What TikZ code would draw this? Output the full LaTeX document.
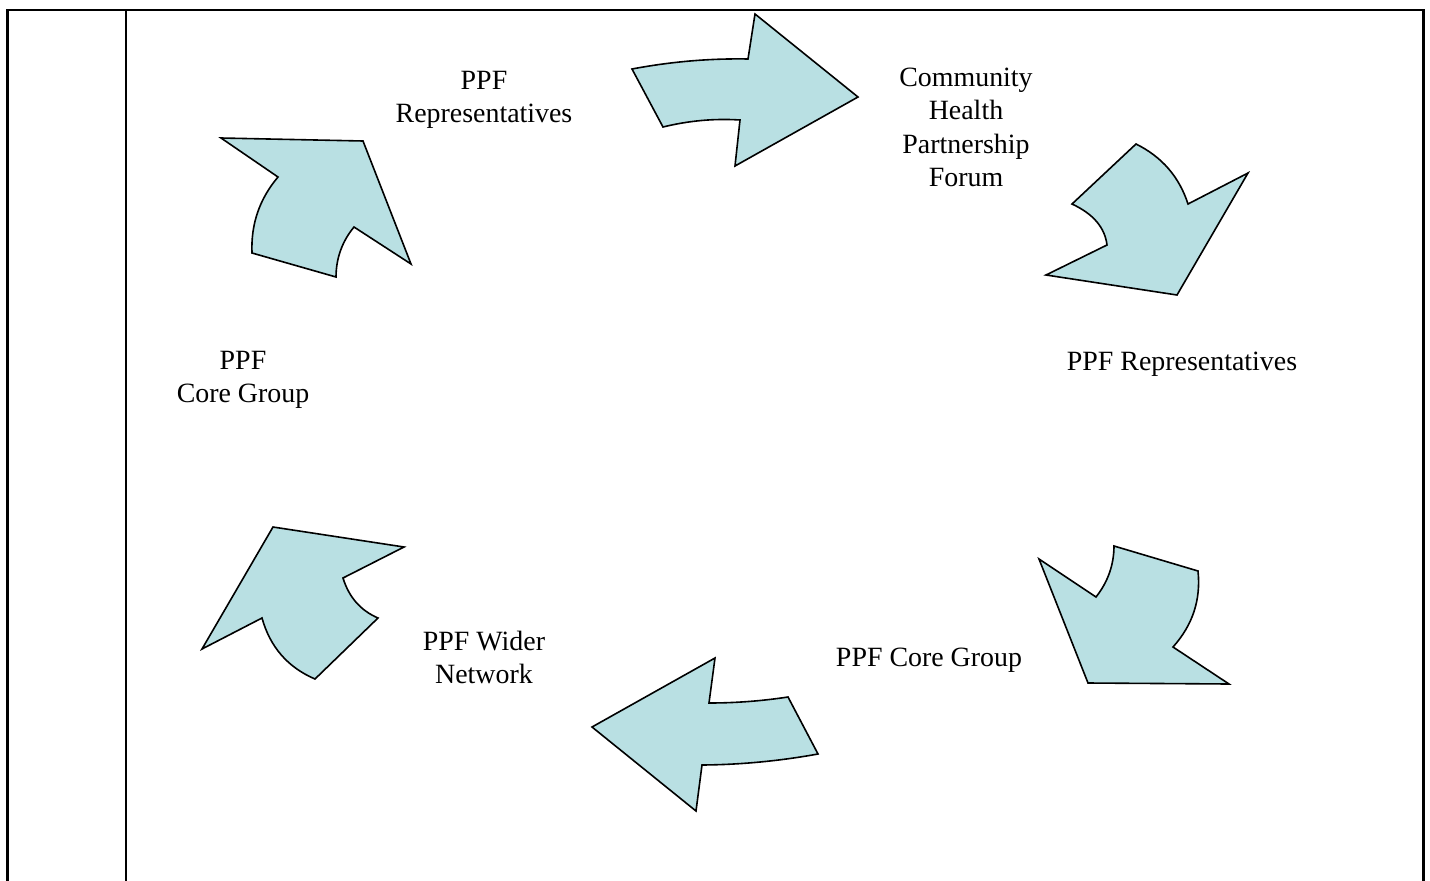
\documentclass[tikz,border=0pt]{standalone}
\usepackage{fontspec}
\setmainfont{Liberation Serif}
\definecolor{arrowfill}{RGB}{185,224,227}
\begin{document}
\begin{tikzpicture}[x=1pt,y=-1pt,
  frameline/.style={line width=2.2pt,black},
  bigarrow/.style={draw=black,line width=1.6pt,fill=arrowfill,line join=miter},
  label/.style={font={\fontsize{27.9}{33.5}\selectfont},align=center,inner sep=0pt,anchor=base}]
\useasboundingbox (0,0) rectangle (1430,881);
% frame
\coordinate (tl) at (7.5,10);
\coordinate (tr) at (1423.5,10);
\coordinate (bl) at (7.5,881);
\coordinate (br) at (1423.5,881);
\coordinate (mt) at (126,10);
\coordinate (mb) at (126,881);
\draw[frameline] (bl) -- (tl) -- (tr) -- (br);
\draw[frameline] (mt) -- (mb);
% arrow 1 (top, pointing right)
\draw[bigarrow] (632,69) .. controls (670.7,61.7) and (709.3,58.3) .. (748,59) -- (755,14) -- (858,97) -- (735,166) -- (740,120)
  .. controls (714.3,118.3) and (688.7,120.7) .. (663,127) -- cycle;
% arrow 2 (top right)
\draw[bigarrow] (1136,144) .. controls (1161.9,156.8) and (1179.2,176.8) .. (1188,204) -- (1248,173) -- (1177,295) -- (1046,275) -- (1107,245)
  .. controls (1104.9,227.6) and (1093.3,213.9) .. (1072,204) -- cycle;
% arrow 3 (bottom right)
\draw[bigarrow] (1039,559) -- (1096,597) .. controls (1107.9,581.9) and (1113.9,564.9) .. (1114,546) -- (1198,571)
  .. controls (1201,599.7) and (1192.7,625) .. (1173,647) -- (1229,684) -- (1088,683) -- cycle;
% arrow 4 (bottom, pointing left)
\draw[bigarrow] (592,727) -- (715,658) -- (709,703) .. controls (735.3,703) and (761.7,701) .. (788,697) -- (818,754)
  .. controls (779.3,761) and (740.7,764.7) .. (702,765) -- (696,811) -- cycle;
% arrow 5 (bottom left)
\draw[bigarrow] (273,527) -- (404,547) -- (343,578) .. controls (348.9,597.2) and (360.6,610.5) .. (378,618) -- (315,679)
  .. controls (287.7,667.3) and (270.1,647) .. (262,618) -- (202,649) -- cycle;
% arrow 6 (top left, pointing up)
\draw[bigarrow] (221,138) -- (363,141) -- (411,264) -- (354,227) .. controls (342.1,241.5) and (336.1,258.2) .. (336,277)
  -- (252,253) .. controls (250.8,224.2) and (259.5,198.9) .. (278,177) -- cycle;
% labels
\node[label] (t1) at (484,122.5) {PPF\\Representatives};
\node[label] (t2) at (966,186.5) {Community\\Health\\Partnership\\Forum};
\node[label] (t3) at (1182,370.5) {PPF Representatives};
\node[label] (t4) at (929,666.5) {PPF Core Group};
\node[label] (t5) at (484,683.5) {PPF Wider\\Network};
\node[label] (t6) at (243,402.5) {PPF\\Core Group};
\end{tikzpicture}
\end{document}
